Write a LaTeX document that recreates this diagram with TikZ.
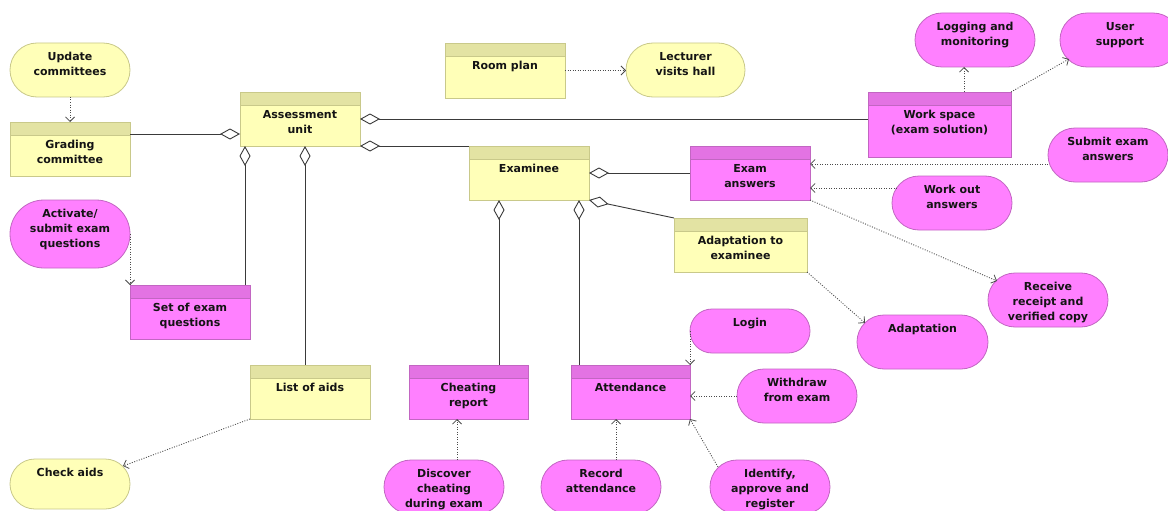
\documentclass[tikz,border=0pt]{standalone}
\usepackage{fontspec}
\setmainfont{DejaVu Sans}
\usetikzlibrary{arrows.meta,fit}

% palette
\definecolor{ylwfill}{HTML}{FFFFB8}
\definecolor{ylwhead}{HTML}{E3E3A3}
\definecolor{ylwline}{HTML}{C9C98A}
\definecolor{magfill}{HTML}{FF80FF}
\definecolor{maghead}{HTML}{E373E3}
\definecolor{magline}{HTML}{C266C2}
\definecolor{inkline}{HTML}{3A3A3A}
\definecolor{depline}{HTML}{4A4A4A}

\tikzset{
  box/.style={inner sep=0pt, outer sep=0pt, line width=0.8pt},
  headband/.style 2 args={
    path picture={
      \fill[#1] (path picture bounding box.north west)
        rectangle ([yshift=-13pt]path picture bounding box.north east);
      \draw[#2, line width=0.8pt] ([yshift=-13pt]path picture bounding box.north west)
        -- ([yshift=-13pt]path picture bounding box.north east);
    }},
  yclass/.style={box, draw=ylwline, fill=ylwfill, headband={ylwhead}{ylwline}},
  mclass/.style={box, draw=magline, fill=magfill, headband={maghead}{magline}},
  yuse/.style={line width=0.8pt, draw=ylwline, fill=ylwfill},
  muse/.style={line width=0.8pt, draw=magline, fill=magfill},
  anchorbox/.style={inner sep=0pt, outer sep=0pt},
  ctext/.style={inner sep=0pt, anchor=north, align=center, text=black!92,
    font=\fontsize{11}{15}\selectfont\bfseries},
  agg/.style={draw=inkline, line width=0.9pt,
    {Diamond[length=20pt,width=11pt,fill=white,line width=0.9pt]}-},
  dep/.style={draw=depline, line width=0.85pt, dash pattern=on 1pt off 1.5pt,
    -{Straight Barb[length=4.5pt,width=9pt,line width=0.8pt]}},
}

% class box: name, style, x1, y1, x2, y2, text
\newcommand\umlclass[7]{%
  \node[#2, fit={(#3,#4) (#5,#6)}] (#1) {};
  \node[ctext] (#1-t) at ([yshift=-16pt]#1.north) {\strut #7};}

% use case (stadium with half-round ends): name, style, x1, y1, x2, y2, text
\newcommand\usecase[7]{%
  \pgfmathsetmacro\ucrad{(#6-#4)/2}%
  \path[#2] ({#3+\ucrad},#4) -- ({#5-\ucrad},#4)
    arc[start angle=-90, end angle=90, radius=\ucrad]
    -- ({#3+\ucrad},#6)
    arc[start angle=90, end angle=270, radius=\ucrad] -- cycle;
  \node[anchorbox, fit={(#3,#4) (#5,#6)}] (#1) {};
  \node[ctext] (#1-t) at ([yshift=-6.5pt]#1.north) {\strut #7};}

\begin{document}
\begin{tikzpicture}[x=1pt, y=-1pt]
\useasboundingbox[fill=white] (0,0) rectangle (1168,511);

% classes
\umlclass{gc}{yclass}{10}{122}{130}{176}{Grading\\committee}
\umlclass{au}{yclass}{240}{92}{360}{146}{Assessment\\unit}
\umlclass{rp}{yclass}{445}{43}{565}{98}{Room plan}
\umlclass{ex}{yclass}{469}{146}{589}{200}{Examinee}
\umlclass{ea}{mclass}{690}{146}{810}{200}{Exam\\answers}
\umlclass{ws}{mclass}{868}{92}{1011}{157}{Work space\\(exam solution)}
\umlclass{ate}{yclass}{674}{218}{807}{272}{Adaptation to\\examinee}
\umlclass{seq}{mclass}{130}{285}{250}{339}{Set of exam\\questions}
\umlclass{loa}{yclass}{250}{365}{370}{419}{List of aids}
\umlclass{cr}{mclass}{409}{365}{528}{419}{Cheating\\report}
\umlclass{att}{mclass}{571}{365}{690}{419}{Attendance}

% use cases
\usecase{uc}{yuse}{10}{43}{130}{97}{Update\\committees}
\usecase{lvh}{yuse}{626}{43}{745}{97}{Lecturer\\visits hall}
\usecase{lm}{muse}{915}{13}{1035}{67}{Logging and\\monitoring}
\usecase{us}{muse}{1060}{13}{1180}{67}{User\\support}
\usecase{sea}{muse}{1048}{128}{1168}{182}{Submit exam\\answers}
\usecase{woa}{muse}{892}{176}{1012}{230}{Work out\\answers}
\usecase{act}{muse}{10}{200}{130}{268}{Activate/\\submit exam\\questions}
\usecase{rrc}{muse}{988}{273}{1108}{327}{Receive\\receipt and\\verified copy}
\usecase{adap}{muse}{857}{315}{988}{369}{Adaptation}
\usecase{login}{muse}{690}{309}{810}{353}{Login}
\usecase{wfe}{muse}{737}{369}{857}{423}{Withdraw\\from exam}
\usecase{ca}{yuse}{10}{459}{130}{509}{Check aids}
\usecase{dce}{muse}{384}{460}{504}{514}{Discover\\cheating\\during exam}
\usecase{ra}{muse}{541}{460}{661}{514}{Record\\attendance}
\usecase{iar}{muse}{710}{460}{830}{514}{Identify,\\approve and\\register}

% aggregations
\coordinate (au-l) at ([yshift=-42pt]au.north west);
\draw[agg] (au-l) -- (au-l -| gc.east);
\draw[agg] (au.east) -- (au.east -| ws.west);
\draw[agg] (au.south east) -- (ex.north west);
\coordinate (au-b1) at ([xshift=5pt]au.south west);
\draw[agg] (au-b1) -- (au-b1 |- seq.north);
\coordinate (au-b2) at ([xshift=5pt]au.south);
\draw[agg] (au-b2) -- (au-b2 |- loa.north);
\draw[agg] (ex.east) -- (ex.east -| ea.west);
\draw[agg] (ex.south east) -- (ate.north west);
\coordinate (ex-b1) at ([xshift=30pt]ex.south west);
\draw[agg] (ex-b1) -- (ex-b1 |- cr.north);
\coordinate (ex-b2) at ([xshift=-10pt]ex.south east);
\draw[agg] (ex-b2) -- (ex-b2 |- att.north);

% dependencies
\draw[dep] (uc.south) -- (gc.north);
\draw[dep] (rp.east) -- (rp.east -| lvh.west);
\coordinate (ws-t) at ([xshift=24.5pt]ws.north);
\draw[dep] (ws-t) -- (ws-t |- lm.south);
\draw[dep] (ws.north east) -- ([xshift=9pt,yshift=8pt]us.south west);
\coordinate (sea-l) at ([yshift=-9pt]sea.west);
\draw[dep] (sea-l) -- (sea-l -| ea.east);
\coordinate (woa-l) at ([xshift=5pt,yshift=15pt]woa.west);
\draw[dep] (woa-l) -- (woa-l -| ea.east);
\draw[dep] (ea.south east) -- ([xshift=9pt,yshift=-8pt]rrc.north west);
\draw[dep] (ate.south east) -- ([xshift=8pt,yshift=-8pt]adap.north west);
\draw[dep] (act.east) -- (seq.north west);
\draw[dep] (loa.south west) -- ([xshift=-7pt,yshift=-7pt]ca.north east);
\draw[dep] (login.west) -- (att.north east);
\draw[dep] (wfe.west) -- (wfe.west -| att.east);
\coordinate (cr-b) at ([xshift=-11.5pt]cr.south);
\draw[dep] (cr-b |- dce.north) -- (cr-b);
\coordinate (att-b) at ([xshift=-14.5pt]att.south);
\draw[dep] (att-b |- ra.north) -- (att-b);
\draw[dep] ([xshift=8pt,yshift=-7pt]iar.north west) -- (att.south east);
\end{tikzpicture}
\end{document}
